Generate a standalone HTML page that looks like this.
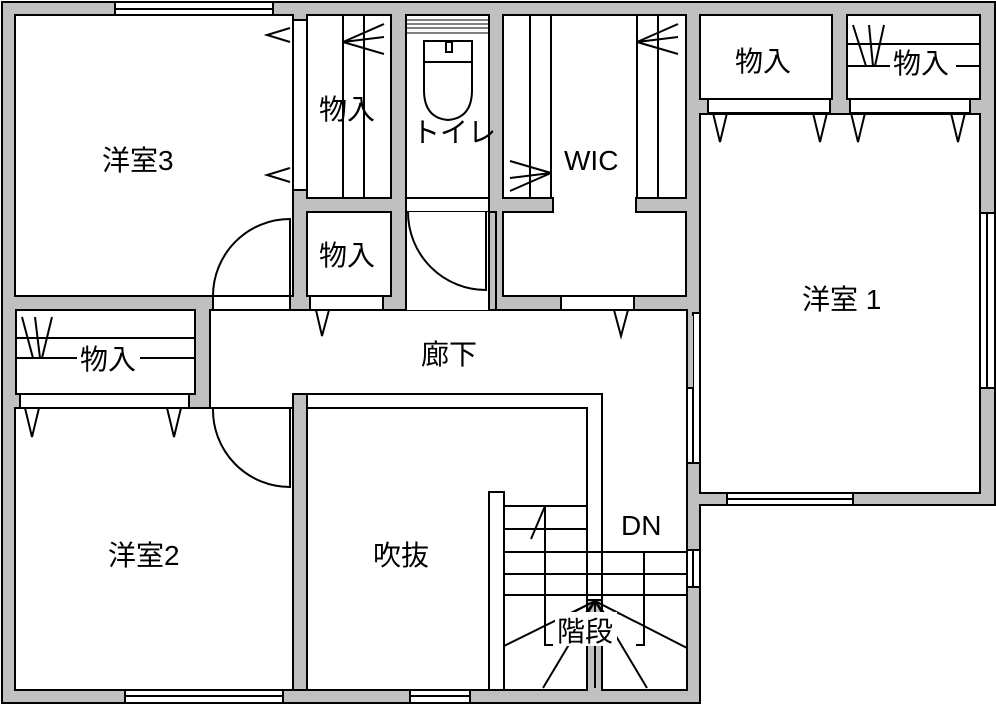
<!DOCTYPE html>
<html><head><meta charset="utf-8"><style>
html,body{margin:0;padding:0;background:#fff;}
svg{display:block;}
text{font-family:"Liberation Sans","Noto Sans CJK JP",sans-serif;font-size:28px;fill:#000;}
</style></head><body>
<svg width="996" height="705" viewBox="0 0 996 705" xmlns="http://www.w3.org/2000/svg">
<g stroke="#000" stroke-width="2">
<polygon points="2,2 995,2 995,505 700,505 700,703 2,703" fill="#c0c0c0"/>
<g fill="#fff">
<rect x="115" y="2" width="158" height="13"/>
<rect x="980" y="213" width="15" height="175"/>
<rect x="727" y="493" width="126" height="12"/>
<rect x="125" y="690" width="158" height="13"/>
<rect x="410" y="690" width="60" height="13"/>
<rect x="687" y="550" width="13" height="37"/>
<rect x="15" y="15" width="278" height="281"/>
<rect x="293" y="20" width="14" height="170"/>
<rect x="307" y="15" width="84" height="183"/>
<rect x="307" y="212" width="84" height="84"/>
<rect x="310" y="296" width="73" height="14"/>
<rect x="213" y="296" width="77" height="14"/>
<rect x="406" y="15" width="83" height="183"/>
<rect x="406" y="198" width="83" height="14"/>
<polygon points="503,15 686,15 686,198 636,198 636,212 686,212 686,296 503,296 503,212 553,212 553,198 503,198"/>
<rect x="561" y="296" width="73" height="14"/>
<rect x="700" y="15" width="132" height="84"/>
<rect x="708" y="99" width="122" height="14"/>
<rect x="847" y="15" width="133" height="84"/>
<rect x="850" y="99" width="120" height="14"/>
<rect x="700" y="114" width="280" height="379"/>
<rect x="16" y="310" width="179" height="84"/>
<rect x="20" y="394" width="169" height="14"/>
<rect x="213" y="394" width="77" height="14"/>
<rect x="15" y="408" width="278" height="282"/>
<polygon points="210,310 687,310 687,690 602,690 602,394 307,394 307,408 210,408" />
<rect x="307" y="408" width="280" height="282"/>
<rect x="693" y="313" width="7" height="150"/>
<rect x="687" y="388" width="6" height="75"/>
</g>
</g>
<rect x="408" y="199" width="80" height="12" fill="#fff"/>
<rect x="211" y="311" width="475" height="82" fill="#fff"/>
<rect x="603" y="395" width="83" height="294" fill="#fff"/>
<rect x="406" y="212" width="83" height="98" fill="#fff"/>
<rect x="690" y="316" width="3" height="72" fill="#c0c0c0"/>
<g stroke="#000" stroke-width="2" fill="none">
<line x1="406" y1="212" x2="406" y2="310"/><line x1="489" y1="212" x2="489" y2="310"/>
<rect x="489" y="212" width="7" height="98" fill="#c0c0c0"/>
<line x1="687" y1="310" x2="687" y2="313"/>
<path d="M687,313 V388 H693" />
<line x1="687" y1="388" x2="687" y2="690"/>
<rect x="293" y="394" width="14" height="296" fill="#c0c0c0"/>
<polygon points="307,394 602,394 602,600 587,600 587,408 307,408" fill="#fff"/>
<line x1="115" y1="9" x2="273" y2="9"/><line x1="987" y1="213" x2="987" y2="388"/>
<line x1="727" y1="499" x2="853" y2="499"/><line x1="125" y1="696" x2="283" y2="696"/>
<line x1="410" y1="696" x2="470" y2="696"/><line x1="693" y1="550" x2="693" y2="587"/>
<path d="M213,296 A77,77 0 0 1 290,219 V296"/>
<path d="M213,408 A77,77 0 0 0 290,487 V408"/>
<path d="M408,212 A78,78 0 0 0 486,290 V212"/>
<path d="M290,28 L267,35 L290,42"/><path d="M290,168 L267,175 L290,182"/>
<path d="M316,310 L322,336 L329,310"/><path d="M614,310 L621,336 L628,310"/>
<path d="M713,113 L720,142 L727,113"/><path d="M813,113 L820,142 L827,113"/>
<path d="M851,113 L858,142 L865,113"/><path d="M951,113 L958,142 L965,113"/>
<path d="M25,408 L32,437 L39,408"/><path d="M167,408 L174,437 L181,408"/>
<line x1="343" y1="15" x2="343" y2="198"/><line x1="364" y1="15" x2="364" y2="198"/>
<path d="M343,42 L384,24 M343,42 L384,37 M343,42 L384,54"/>
<line x1="530" y1="15" x2="530" y2="198"/><line x1="551" y1="15" x2="551" y2="198"/>
<path d="M551,173 L510,161 M551,173 L510,178 M551,173 L510,191"/>
<line x1="637" y1="15" x2="637" y2="198"/><line x1="658" y1="15" x2="658" y2="198"/>
<path d="M637,42 L678,24 M637,42 L678,37 M637,42 L678,54"/>
<line x1="847" y1="44" x2="980" y2="44"/><line x1="847" y1="66" x2="980" y2="66"/>
<path d="M853,25 L866,66 M869,25 L873,66 M884,25 L875,66"/>
<line x1="16" y1="338" x2="195" y2="338"/><line x1="16" y1="358" x2="195" y2="358"/>
<path d="M22,317 L33,358 M35,317 L40,358 M52,317 L42,358"/>
<g stroke-width="1">
<line x1="406" y1="20" x2="489" y2="20"/><line x1="406" y1="24" x2="489" y2="24"/>
<line x1="406" y1="28" x2="489" y2="28"/><line x1="406" y1="33" x2="489" y2="33"/>
</g>
<rect x="424" y="41" width="48" height="21"/>
<rect x="446" y="42" width="6" height="10"/>
<path d="M424,62 V90 Q424,118 448,120 Q472,118 472,90 V62"/>
<rect x="489" y="492" width="15" height="198" fill="#fff"/>
<path d="M504,506 H587 M504,529 H587 M504,552 H687 M504,574 H687 M504,595 H687"/>
<path d="M545,506 V645 H553 M644,552 V645 H636"/>
<path d="M531,539 L545,506"/>
<path d="M595,601 L504,646 M595,601 L687,648 M595,601 L543,688 M595,601 L595,688 M595,601 L647,688 M595,601 L570,614 M595,601 L585,614 M595,601 L605,614 M595,601 L620,614"/>
</g>
<rect x="555" y="612" width="62" height="34" fill="#fff"/>
<rect x="77" y="340" width="63" height="34" fill="#fff"/>
<rect x="890" y="45" width="66" height="32" fill="#fff"/>
<text x="102" y="170">洋室3</text>
<text x="319" y="119">物入</text>
<text x="319" y="265">物入</text>
<text x="412" y="142" font-size="26">トイレ</text>
<text x="564" y="170">WIC</text>
<text x="735" y="71">物入</text>
<text x="893" y="73">物入</text>
<text x="802" y="309">洋室 1</text>
<text x="80" y="369">物入</text>
<text x="421" y="364">廊下</text>
<text x="108" y="565">洋室2</text>
<text x="373" y="565">吹抜</text>
<text x="621" y="535">DN</text>
<text x="557" y="641">階段</text>
</svg>
</body></html>
